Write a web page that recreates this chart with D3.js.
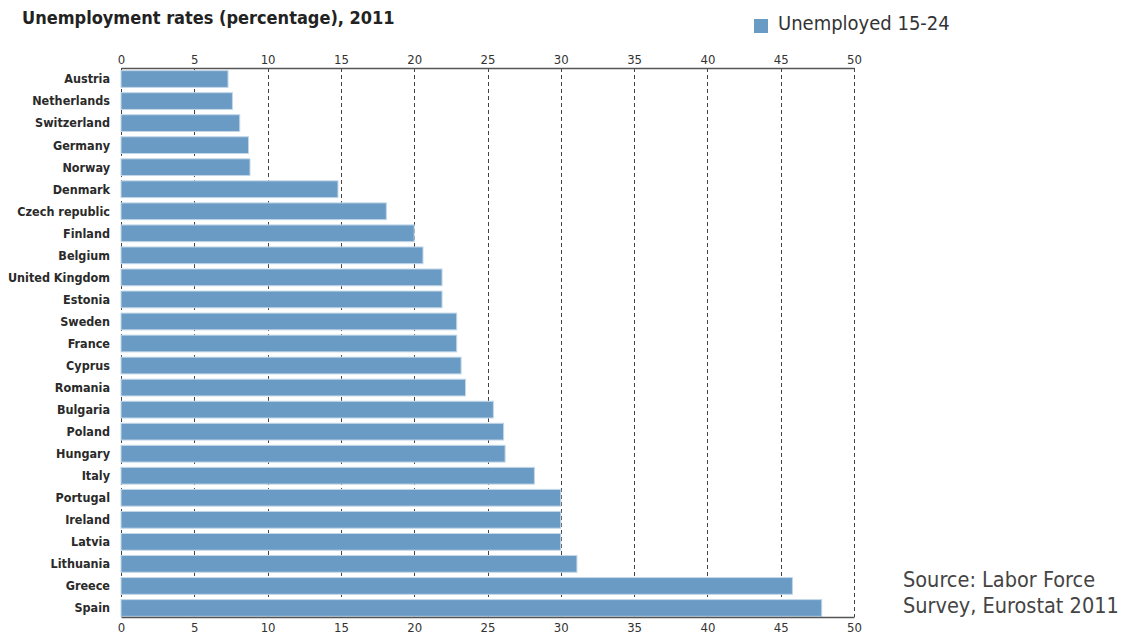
<!DOCTYPE html>
<html>
<head>
<meta charset="utf-8">
<script src="https://cdn.jsdelivr.net/npm/d3@7"></script>
<style>
    body { margin: 0; background: #fff; }
    svg { display: block; font-family: "DejaVu Sans Condensed", "DejaVu Sans", sans-serif; font-stretch: condensed; }
</style>
</head>
<body>
<script>
const countries = ["Austria", "Netherlands", "Switzerland", "Germany", "Norway", "Denmark", "Czech republic",
    "Finland", "Belgium", "United Kingdom", "Estonia", "Sweden", "France", "Cyprus", "Romania", "Bulgaria",
    "Poland", "Hungary", "Italy", "Portugal", "Ireland", "Latvia", "Lithuania", "Greece", "Spain"];
const unemployed = [7.3, 7.6, 8.1, 8.7, 8.8, 14.8, 18.1, 20.0, 20.6, 21.9, 21.9, 22.9, 22.9, 23.2, 23.5, 25.4,
    26.1, 26.2, 28.2, 30.0, 30.0, 30.0, 31.1, 45.8, 47.8];
const xTicks = [0, 5, 10, 15, 20, 25, 30, 35, 40, 45, 50];

const data = countries.map((c, i) => ({ country: c, value: unemployed[i] }));

const width = 1121;
const height = 635;
const plotLeft = 121, plotRight = 854, plotTop = 68, plotBottom = 617;
const barColor = "#6a9bc4";

const svg = d3.select("body").append("svg")
    .attr("width", width)
    .attr("height", height);

const x = d3.scaleLinear().domain([0, 50]).range([plotLeft, plotRight]);
const y = d3.scaleBand().domain(countries).range([plotTop, plotBottom + 2])
    .paddingInner(0.24).paddingOuter(0.12);

// dashed gridlines behind the bars
svg.append("g").selectAll("line")
    .data(xTicks)
    .join("line")
    .attr("x1", d => Math.round(x(d)) + 0.5)
    .attr("x2", d => Math.round(x(d)) + 0.5)
    .attr("y1", plotTop)
    .attr("y2", plotBottom)
    .attr("stroke", "#444")
    .attr("stroke-dasharray", "4,3");

svg.append("g").selectAll("rect")
    .data(data)
    .join("rect")
    .attr("x", x(0))
    .attr("y", d => y(d.country))
    .attr("width", d => x(d.value) - x(0))
    .attr("height", y.bandwidth())
    .attr("fill", barColor)
    .attr("stroke", "#c3d7e8")
    .attr("stroke-width", 1);

const topAxis = svg.append("g")
    .attr("transform", `translate(0, ${plotTop})`)
    .call(d3.axisTop(x).tickValues(xTicks).tickSize(0).tickPadding(4));

const bottomAxis = svg.append("g")
    .attr("transform", `translate(0, ${plotBottom})`)
    .call(d3.axisBottom(x).tickValues(xTicks).tickSize(0).tickPadding(6));

[topAxis, bottomAxis].forEach(g => {
    g.attr("font-family", null);
    g.select(".domain").attr("stroke", "#555").attr("stroke-width", 1.5);
    g.selectAll("text").attr("fill", "#333").style("font-size", "13px");
});

// country labels
svg.append("g").selectAll("text")
    .data(data)
    .join("text")
    .attr("x", 110)
    .attr("y", d => y(d.country) + y.bandwidth() / 2)
    .attr("dy", "0.35em")
    .attr("text-anchor", "end")
    .attr("fill", "#2a2a2a")
    .style("font-size", "12.5px")
    .style("font-weight", "bold")
    .text(d => d.country);

svg.append("text")
    .attr("x", 22)
    .attr("y", 24)
    .attr("fill", "#222")
    .style("font-size", "18px")
    .style("font-weight", "bold")
    .text("Unemployment rates (percentage), 2011");

// legend
svg.append("rect")
    .attr("x", 754)
    .attr("y", 19)
    .attr("width", 14)
    .attr("height", 14)
    .attr("fill", barColor);

svg.append("text")
    .attr("x", 778)
    .attr("y", 30)
    .attr("fill", "#333")
    .style("font-size", "20px")
    .text("Unemployed 15-24");

// source note
const source = svg.append("text")
    .attr("x", 903)
    .attr("y", 587)
    .attr("fill", "#444")
    .style("font-size", "21.5px");
source.append("tspan").attr("x", 903).text("Source: Labor Force");
source.append("tspan").attr("x", 903).attr("dy", 26).text("Survey, Eurostat 2011");
</script>
</body>
</html>
